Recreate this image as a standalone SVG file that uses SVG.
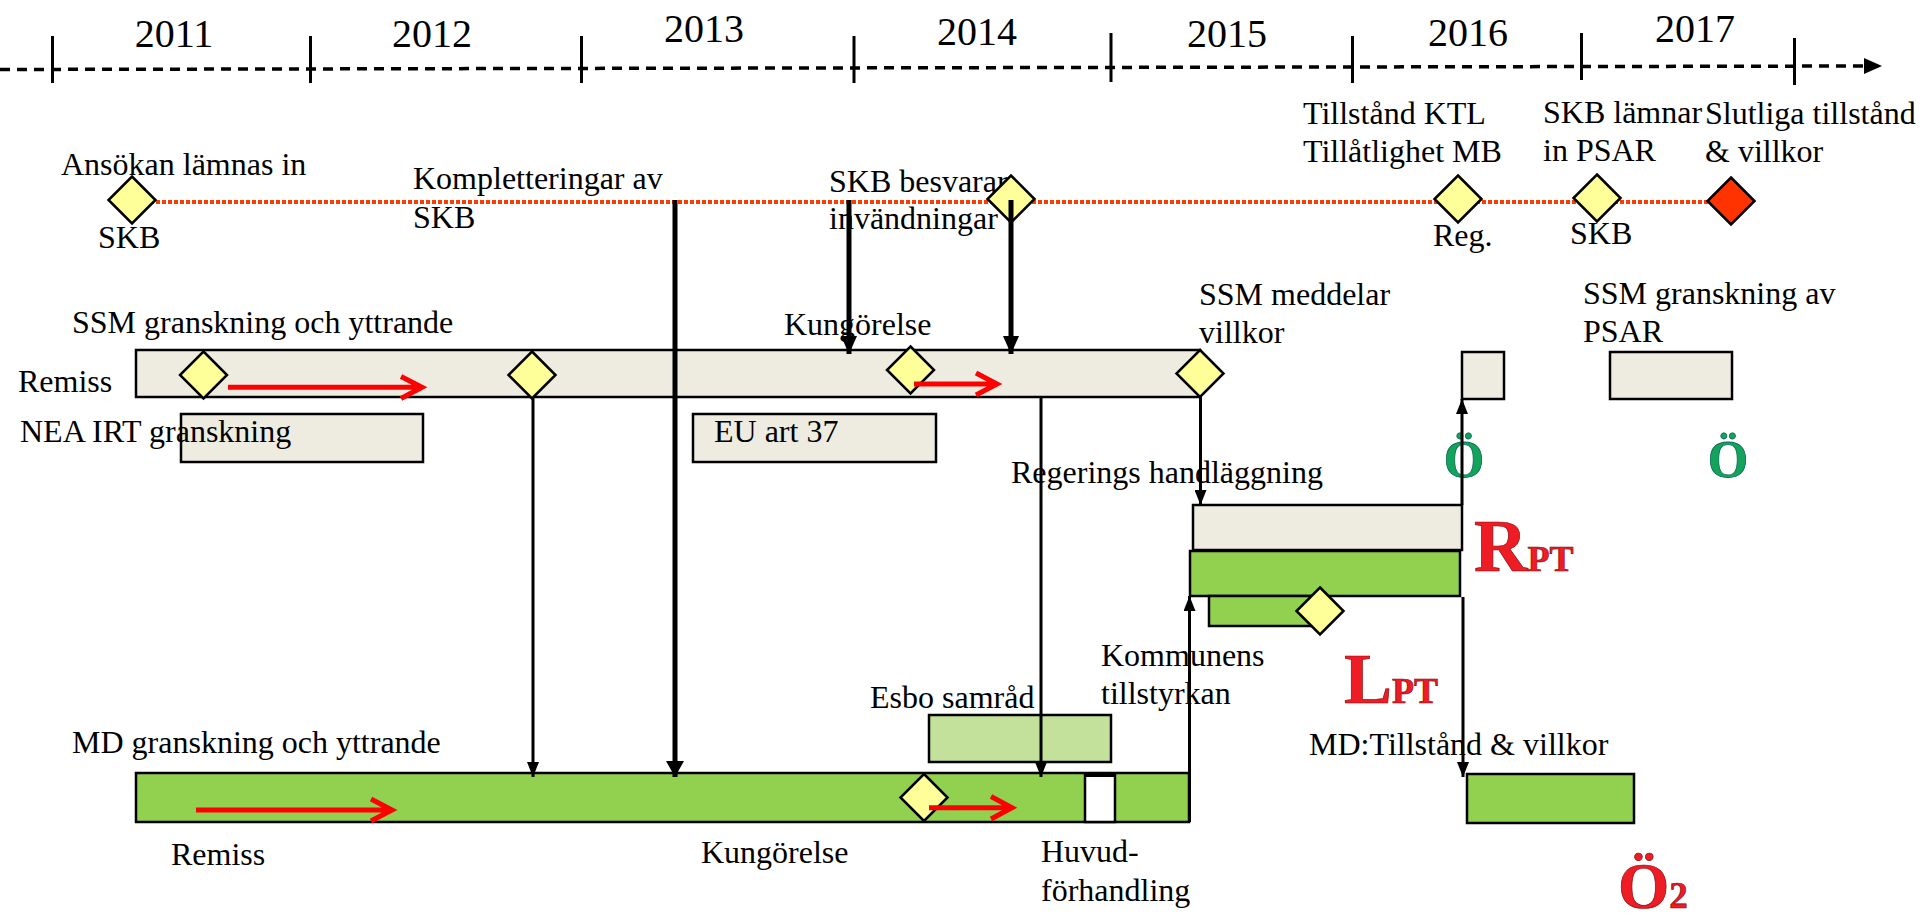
<svg xmlns="http://www.w3.org/2000/svg" xmlns:xlink="http://www.w3.org/1999/xlink" width="1920" height="923" viewBox="0 0 1920 923">
<style>
text{font-family:"Liberation Serif","Times New Roman",serif;fill:#000}
.lbl{font-size:32px}
.yr{font-size:40px;text-anchor:middle}
.tick{stroke:#000;stroke-width:3}
.beige{fill:#EEECE1;stroke:#000;stroke-width:2.5}
.green{fill:#92D050;stroke:#000;stroke-width:2.5}
.lgreen{fill:#C3E19B;stroke:#000;stroke-width:2.5}
.white{fill:#fff;stroke:#000;stroke-width:2.5}
.dia{fill:#FFFF99;stroke:#000;stroke-width:2.5;stroke-linejoin:miter}
.diar{fill:#FF3300;stroke:#000;stroke-width:2.5}
.redarr{fill:none;stroke:#FF0000;stroke-width:5}
.thin{stroke:#000;stroke-width:3;fill:none}
.thick{stroke:#000;stroke-width:5;fill:none}
.gO{font-size:52px;font-weight:bold;fill:#13A35A;stroke:#0B6B5A;stroke-width:0.8;text-anchor:middle}
.rBig{font-weight:bold;fill:#EE1C25;stroke:#8A0A10;stroke-width:0.7}
</style>
<defs>
<path id="dia" d="M0,-23.5 L23.5,0 L0,23.5 L-23.5,0 Z"/>
<marker id="ah" markerUnits="userSpaceOnUse" markerWidth="15" markerHeight="12" refX="15" refY="6" orient="auto"><path d="M0,0 L15,6 L0,12 Z" fill="#000"/></marker>
<marker id="ahT" markerUnits="userSpaceOnUse" markerWidth="16" markerHeight="18" refX="16" refY="9" orient="auto"><path d="M0,0 L16,9 L0,18 Z" fill="#000"/></marker>
<marker id="ahTL" markerUnits="userSpaceOnUse" markerWidth="18" markerHeight="16" refX="18" refY="8" orient="auto"><path d="M0,0 L18,8 L0,16 Z" fill="#000"/></marker>
</defs>

<g id="timeline">
<line x1="0" y1="69.5" x2="1866" y2="66" stroke="#000" stroke-width="3.5" stroke-dasharray="10 7"/>
<path d="M1864,58 L1882,66 L1864,74 Z" fill="#000"/>
<line class="tick" x1="52.5" y1="36" x2="52.5" y2="83"/>
<line class="tick" x1="310.5" y1="36" x2="310.5" y2="83"/>
<line class="tick" x1="581.5" y1="36" x2="581.5" y2="83"/>
<line class="tick" x1="854" y1="36" x2="854" y2="83"/>
<line class="tick" x1="1111" y1="33" x2="1111" y2="82"/>
<line class="tick" x1="1352.5" y1="36" x2="1352.5" y2="83"/>
<line class="tick" x1="1581.5" y1="33" x2="1581.5" y2="80"/>
<line class="tick" x1="1794.5" y1="38" x2="1794.5" y2="85"/>
<text class="yr" x="174" y="46.5">2011</text>
<text class="yr" x="432" y="46.5">2012</text>
<text class="yr" x="704" y="41.5">2013</text>
<text class="yr" x="977" y="45">2014</text>
<text class="yr" x="1227" y="46.5">2015</text>
<text class="yr" x="1468" y="45.5">2016</text>
<text class="yr" x="1695" y="41.5">2017</text>
</g>

<g id="skb-line">
<line x1="150" y1="202" x2="1712" y2="202" stroke="#FF3C00" stroke-width="4" stroke-dasharray="4 2"/>
</g>

<g id="ansokan">
<use xlink:href="#dia" class="dia" x="132" y="200"/>
<text class="lbl" x="61" y="175">Ansökan lämnas in</text>
<text class="lbl" x="98" y="248">SKB</text>
</g>
<g id="kompletteringar">
<text class="lbl" x="413" y="189">Kompletteringar av</text>
<text class="lbl" x="413" y="228">SKB</text>
</g>
<g id="skb-besvarar">
<text class="lbl" x="829" y="191.5">SKB besvarar</text>
<text class="lbl" x="829" y="229">invändningar</text>
<use xlink:href="#dia" class="dia" x="1011" y="199"/>
</g>
<g id="tillstand-ktl">
<text class="lbl" x="1303" y="124">Tillstånd KTL</text>
<text class="lbl" x="1303" y="162">Tillåtlighet MB</text>
<use xlink:href="#dia" class="dia" x="1458" y="199"/>
<text class="lbl" x="1433" y="246">Reg.</text>
</g>
<g id="skb-psar">
<text class="lbl" x="1543" y="123">SKB lämnar</text>
<text class="lbl" x="1543" y="161">in PSAR</text>
<use xlink:href="#dia" class="dia" x="1597" y="198"/>
<text class="lbl" x="1570" y="244">SKB</text>
</g>
<g id="slutliga">
<text class="lbl" x="1705" y="124">Slutliga tillstånd</text>
<text class="lbl" x="1705" y="162">&amp; villkor</text>
<use xlink:href="#dia" class="diar" x="1731" y="201"/>
</g>

<g id="ssm-bar">
<text class="lbl" x="72" y="333">SSM granskning och yttrande</text>
<text class="lbl" x="18" y="392">Remiss</text>
<rect class="beige" x="136" y="350" width="1064" height="47"/>
<use xlink:href="#dia" class="dia" x="203.5" y="375"/>
<use xlink:href="#dia" class="dia" x="532" y="375"/>
<use xlink:href="#dia" class="dia" x="910.5" y="370"/>
<use xlink:href="#dia" class="dia" x="1200" y="373.5"/>
<path class="redarr" d="M228,387.3 H421 M401,376.5 L422,387.3 L401,398.5"/>
<path class="redarr" d="M914,384 H996 M976,373 L997,384 L976,395"/>
<text class="lbl" x="784" y="335">Kungörelse</text>
</g>

<g id="nea-irt">
<rect class="beige" x="181" y="414" width="242" height="48"/>
<text class="lbl" x="20" y="442">NEA IRT granskning</text>
</g>
<g id="eu-art37">
<rect class="beige" x="693" y="414" width="243" height="48"/>
<text class="lbl" x="714" y="442">EU art 37</text>
</g>

<g id="ssm-meddelar">
<text class="lbl" x="1199" y="305">SSM meddelar</text>
<text class="lbl" x="1199" y="343">villkor</text>
</g>

<g id="ssm-psar">
<text class="lbl" x="1583" y="304">SSM granskning av</text>
<text class="lbl" x="1583" y="342">PSAR</text>
<rect class="beige" x="1610" y="352" width="122" height="47"/>
<text class="gO" x="1728" y="477">Ö</text>
</g>
<g id="small-box">
<rect class="beige" x="1462" y="352" width="42" height="47"/>
<text class="gO" x="1464" y="477">Ö</text>
</g>

<g id="regering">
<text class="lbl" x="1011" y="483">Regerings handläggning</text>
<rect class="beige" x="1193" y="505" width="269" height="45"/>
<rect class="green" x="1190" y="551" width="270" height="45"/>
<rect class="green" x="1209" y="596" width="112" height="30"/>
<use xlink:href="#dia" class="dia" x="1320" y="611"/>
<text class="rBig" x="1474" y="571" font-size="74">R<tspan font-size="36">PT</tspan></text>
<text class="rBig" x="1344" y="703" font-size="72">L<tspan font-size="36">PT</tspan></text>
</g>

<g id="kommunens">
<text class="lbl" x="1101" y="666">Kommunens</text>
<text class="lbl" x="1101" y="704">tillstyrkan</text>
</g>

<g id="esbo">
<text class="lbl" x="870" y="708">Esbo samråd</text>
<rect class="lgreen" x="929" y="715" width="182" height="47"/>
</g>

<g id="md-bar">
<text class="lbl" x="72" y="753">MD granskning och yttrande</text>
<rect class="green" x="136" y="773" width="1053" height="49"/>
<rect class="white" x="1085" y="775" width="30" height="47"/>
<line x1="1085" y1="775" x2="1115" y2="775" stroke="#000" stroke-width="4"/>
<use xlink:href="#dia" class="dia" x="924" y="797.5"/>
<path class="redarr" d="M196,810 H391 M371,799 L392,810 L371,821"/>
<path class="redarr" d="M929,807.7 H1011 M991,796.5 L1012,807.7 L991,819"/>
<text class="lbl" x="171" y="865">Remiss</text>
<text class="lbl" x="701" y="863">Kungörelse</text>
<text class="lbl" x="1041" y="862">Huvud-</text>
<text class="lbl" x="1041" y="901">förhandling</text>
</g>

<g id="md-tillstand">
<text class="lbl" x="1309" y="755">MD:Tillstånd &amp; villkor</text>
<rect class="green" x="1467" y="774" width="167" height="49"/>
<text class="rBig" x="1618" y="908" font-size="66">Ö<tspan font-size="37">2</tspan></text>
</g>

<g id="connectors">
<line class="thick" x1="675" y1="200" x2="675" y2="777" marker-end="url(#ahT)"/>
<line class="thick" x1="849" y1="200" x2="849" y2="354" marker-end="url(#ahTL)"/>
<line class="thick" x1="1011" y1="200" x2="1011" y2="354" marker-end="url(#ahTL)"/>
<line class="thin" x1="533" y1="397" x2="533" y2="777" marker-end="url(#ah)"/>
<line class="thin" x1="1041" y1="397" x2="1041" y2="777" marker-end="url(#ah)"/>
<line class="thin" x1="1200.5" y1="397" x2="1200.5" y2="505" marker-end="url(#ah)"/>
<line class="thin" x1="1189.5" y1="822" x2="1189.5" y2="596" marker-end="url(#ah)"/>
<line class="thin" x1="1463" y1="597" x2="1463" y2="777" marker-end="url(#ah)"/>
<line class="thin" x1="1462" y1="505" x2="1462" y2="399" marker-end="url(#ah)"/>
</g>
</svg>
